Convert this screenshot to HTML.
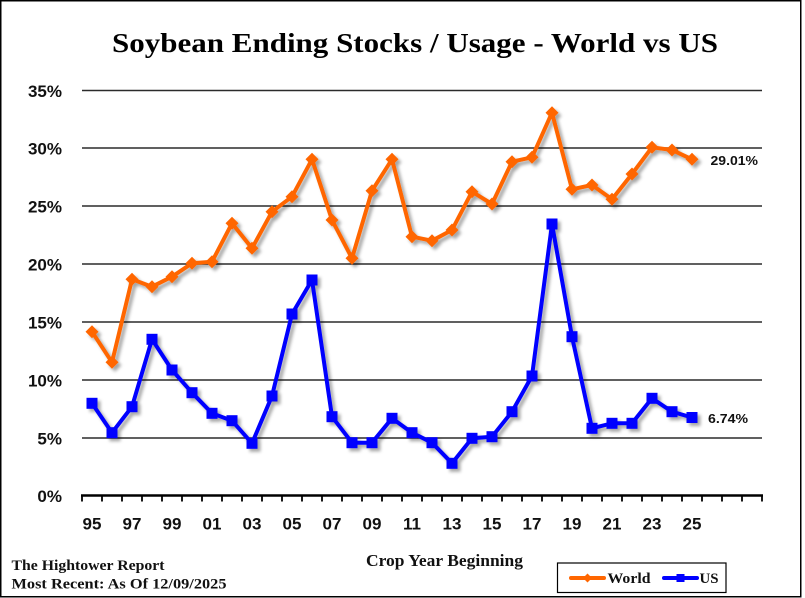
<!DOCTYPE html>
<html><head><meta charset="utf-8"><style>
html,body{margin:0;padding:0;background:#fff;}
svg{display:block;}
</style></head><body>
<svg width="805" height="598" viewBox="0 0 805 598" xmlns="http://www.w3.org/2000/svg">
<defs>
<filter id="sh" x="-10%" y="-10%" width="130%" height="130%">
<feDropShadow dx="3" dy="3" stdDeviation="1.6" flood-color="#000" flood-opacity="0.35"/>
</filter>
<marker id="dia" markerUnits="userSpaceOnUse" markerWidth="14" markerHeight="14" refX="7" refY="7" overflow="visible">
<polygon points="7,0.5 13.5,7 7,13.5 0.5,7" fill="#FF6600"/>
</marker>
<marker id="sq" markerUnits="userSpaceOnUse" markerWidth="12" markerHeight="12" refX="6" refY="6" overflow="visible">
<rect x="0.5" y="0.5" width="11" height="11" fill="#0000FF"/>
</marker>
</defs>
<rect x="0" y="0" width="805" height="598" fill="#fff"/>
<rect x="0.75" y="0.75" width="800" height="596" fill="none" stroke="#000" stroke-width="1.5"/>

<text x="415" y="52" text-anchor="middle" font-family="Liberation Serif, serif" font-weight="bold" font-size="27" textLength="606" lengthAdjust="spacingAndGlyphs">Soybean Ending Stocks / Usage - World vs US</text>

<g stroke="#2b2b2b" stroke-width="1.6">
<line x1="82" y1="90.5" x2="762" y2="90.5"/>
<line x1="82" y1="148" x2="762" y2="148"/>
<line x1="82" y1="206" x2="762" y2="206"/>
<line x1="82" y1="264" x2="762" y2="264"/>
<line x1="82" y1="322" x2="762" y2="322"/>
<line x1="82" y1="380" x2="762" y2="380"/>
<line x1="82" y1="438" x2="762" y2="438"/>
</g>
<line x1="81" y1="495.5" x2="763" y2="495.5" stroke="#000" stroke-width="2.5"/>
<g stroke="#000" stroke-width="1.8">
<line x1="82" y1="495" x2="82" y2="501.5"/><line x1="102" y1="495" x2="102" y2="501.5"/><line x1="122" y1="495" x2="122" y2="501.5"/><line x1="142" y1="495" x2="142" y2="501.5"/><line x1="162" y1="495" x2="162" y2="501.5"/><line x1="182" y1="495" x2="182" y2="501.5"/><line x1="202" y1="495" x2="202" y2="501.5"/><line x1="222" y1="495" x2="222" y2="501.5"/><line x1="242" y1="495" x2="242" y2="501.5"/><line x1="262" y1="495" x2="262" y2="501.5"/><line x1="282" y1="495" x2="282" y2="501.5"/><line x1="302" y1="495" x2="302" y2="501.5"/><line x1="322" y1="495" x2="322" y2="501.5"/><line x1="342" y1="495" x2="342" y2="501.5"/><line x1="362" y1="495" x2="362" y2="501.5"/><line x1="382" y1="495" x2="382" y2="501.5"/><line x1="402" y1="495" x2="402" y2="501.5"/><line x1="422" y1="495" x2="422" y2="501.5"/><line x1="442" y1="495" x2="442" y2="501.5"/><line x1="462" y1="495" x2="462" y2="501.5"/><line x1="482" y1="495" x2="482" y2="501.5"/><line x1="502" y1="495" x2="502" y2="501.5"/><line x1="522" y1="495" x2="522" y2="501.5"/><line x1="542" y1="495" x2="542" y2="501.5"/><line x1="562" y1="495" x2="562" y2="501.5"/><line x1="582" y1="495" x2="582" y2="501.5"/><line x1="602" y1="495" x2="602" y2="501.5"/><line x1="622" y1="495" x2="622" y2="501.5"/><line x1="642" y1="495" x2="642" y2="501.5"/><line x1="662" y1="495" x2="662" y2="501.5"/><line x1="682" y1="495" x2="682" y2="501.5"/><line x1="702" y1="495" x2="702" y2="501.5"/><line x1="722" y1="495" x2="722" y2="501.5"/><line x1="742" y1="495" x2="742" y2="501.5"/><line x1="762" y1="495" x2="762" y2="501.5"/>
</g>

<g font-family="Liberation Sans, Arial, sans-serif" font-weight="bold" font-size="17" fill="#111" text-anchor="end">
<text x="62" y="97">35%</text>
<text x="62" y="154.5">30%</text>
<text x="62" y="212.5">25%</text>
<text x="62" y="270.5">20%</text>
<text x="62" y="328.5">15%</text>
<text x="62" y="386.5">10%</text>
<text x="62" y="444.5">5%</text>
<text x="62" y="502">0%</text>
</g>

<g font-family="Liberation Sans, Arial, sans-serif" font-weight="bold" font-size="17" fill="#111" text-anchor="middle">
<text x="92" y="529.5">95</text><text x="132" y="529.5">97</text><text x="172" y="529.5">99</text><text x="212" y="529.5">01</text><text x="252" y="529.5">03</text><text x="292" y="529.5">05</text><text x="332" y="529.5">07</text><text x="372" y="529.5">09</text><text x="412" y="529.5">11</text><text x="452" y="529.5">13</text><text x="492" y="529.5">15</text><text x="532" y="529.5">17</text><text x="572" y="529.5">19</text><text x="612" y="529.5">21</text><text x="652" y="529.5">23</text><text x="692" y="529.5">25</text>
</g>

<g filter="url(#sh)">
<polyline fill="none" stroke="#FF6600" stroke-width="4" stroke-linejoin="round" marker-start="url(#dia)" marker-mid="url(#dia)" marker-end="url(#dia)" points="92,331.7 112,362.3 132,279.3 152,286.7 172,276.7 192,263.3 212,261.7 232,223.3 252,248.3 272,211.7 292,196.7 312,159.3 332,220 352,258.3 372,190.7 392,159.3 412,236.7 432,240.7 452,230 472,191.7 492,204 512,161.7 532,157.3 552,112.7 572,189.3 592,185 612,199.3 632,174 652,147.3 672,150 692,159.3"/>
<polyline fill="none" stroke="#0000FF" stroke-width="4" stroke-linejoin="round" marker-start="url(#sq)" marker-mid="url(#sq)" marker-end="url(#sq)" points="92,403.3 112,432.7 132,406.7 152,339.3 172,370 192,392.7 212,413.3 232,420.7 252,443.3 272,396 292,314 312,280 332,416.7 352,442.7 372,442.7 392,418.3 412,432.7 432,442.7 452,463.3 472,438.3 492,436.7 512,411.7 532,376 552,224 572,336.7 592,428.3 612,423.3 632,423.3 652,398.3 672,411.7 692,417.5"/>
</g>

<g font-family="Liberation Sans, Arial, sans-serif" font-weight="bold" font-size="13" fill="#111">
<text x="710.5" y="165" textLength="47.5" lengthAdjust="spacingAndGlyphs">29.01%</text>
<text x="708" y="423" textLength="40" lengthAdjust="spacingAndGlyphs">6.74%</text>
</g>

<text x="444.5" y="566" text-anchor="middle" font-family="Liberation Serif, serif" font-weight="bold" font-size="17" fill="#111" textLength="157" lengthAdjust="spacingAndGlyphs">Crop Year Beginning</text>

<g font-family="Liberation Serif, serif" font-weight="bold" font-size="15" fill="#111">
<text x="11.5" y="570" textLength="153" lengthAdjust="spacingAndGlyphs">The Hightower Report</text>
<text x="11.5" y="588.5" textLength="215" lengthAdjust="spacingAndGlyphs">Most Recent: As Of 12/09/2025</text>
</g>

<rect x="557.5" y="563" width="168.5" height="29.5" fill="#fff" stroke="#000" stroke-width="1.2"/>
<line x1="571" y1="578" x2="604" y2="578" stroke="#FF6600" stroke-width="4" stroke-linecap="round"/>
<polygon points="587.5,573.5 592,578 587.5,582.5 583,578" fill="#FF6600"/>
<line x1="664" y1="578" x2="697" y2="578" stroke="#0000FF" stroke-width="4" stroke-linecap="round"/>
<rect x="676.5" y="574" width="8" height="8" fill="#0000FF"/>
<g font-family="Liberation Serif, serif" font-weight="bold" font-size="15" fill="#111">
<text x="607.5" y="583" textLength="43" lengthAdjust="spacingAndGlyphs">World</text>
<text x="699.5" y="583" textLength="19" lengthAdjust="spacingAndGlyphs">US</text>
</g>
</svg>
</body></html>
